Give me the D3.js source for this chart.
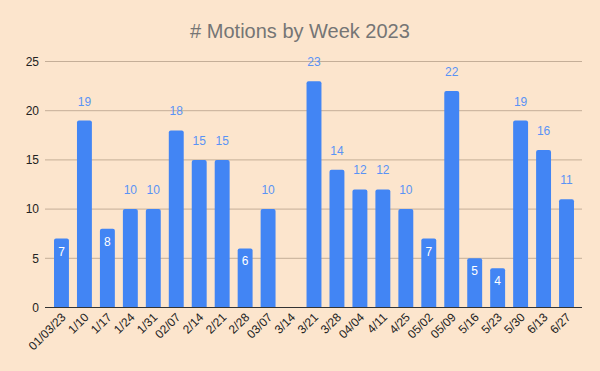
<!DOCTYPE html>
<html>
<head>
<meta charset="utf-8">
<script src="https://cdn.jsdelivr.net/npm/d3@7"></script>
<style>
  body { margin: 0; background: #fce5cd; }
  text { font-family: "Liberation Sans", Arial, sans-serif; }
</style>
</head>
<body>
<div id="chart"></div>
<script>
// weekly motion counts
var weeks = ["01/03/23", "1/10", "1/17", "1/24", "1/31", "02/07", "2/14", "2/21", "2/28", "03/07",
  "3/14", "3/21", "3/28", "04/04", "4/11", "4/25", "05/02", "05/09", "5/16", "5/23", "5/30", "6/13", "6/27"];
var motions = [7, 19, 8, 10, 10, 18, 15, 15, 6, 10, 0, 23, 14, 12, 12, 10, 7, 22, 5, 4, 19, 16, 11];
var yTicks = [0, 5, 10, 15, 20, 25];

var width = 600, height = 371;
var gridLeft = 45, gridRight = 582;

var svg = d3.select("#chart").append("svg")
  .attr("width", width)
  .attr("height", height);

svg.append("rect")
  .attr("width", width).attr("height", height)
  .attr("fill", "#fce5cd");

svg.append("text")
  .attr("x", 300).attr("y", 37.5)
  .attr("text-anchor", "middle")
  .attr("font-size", "20px")
  .attr("fill", "#757575")
  .text("# Motions by Week 2023");

var x = d3.scaleBand()
  .domain(weeks)
  .range([50, 578])
  .paddingInner(0.35)
  .paddingOuter(0.175);

var y = d3.scaleLinear()
  .domain([0, 25])
  .range([307.5, 61.5]);

// gridlines
svg.append("g").selectAll("line")
  .data(yTicks.filter(function(d) { return d > 0; }))
  .join("line")
  .attr("x1", gridLeft).attr("x2", gridRight)
  .attr("y1", function(d) { return y(d); })
  .attr("y2", function(d) { return y(d); })
  .attr("stroke", "#c4ae98")
  .attr("stroke-width", 1);

// y tick labels
svg.append("g").selectAll("text")
  .data(yTicks)
  .join("text")
  .attr("x", 39)
  .attr("y", function(d) { return y(d); })
  .attr("dy", "0.35em")
  .attr("text-anchor", "end")
  .attr("font-size", "12px")
  .attr("fill", "#222")
  .text(function(d) { return d; });

// bars with rounded tops
var r = 2;
function barPath(d, i) {
  var x0 = x(weeks[i]), w = x.bandwidth();
  var y0 = y(0), y1 = y(d);
  if (d === 0) return "";
  return "M" + x0 + "," + y0 +
    "V" + (y1 + r) +
    "Q" + x0 + "," + y1 + " " + (x0 + r) + "," + y1 +
    "H" + (x0 + w - r) +
    "Q" + (x0 + w) + "," + y1 + " " + (x0 + w) + "," + (y1 + r) +
    "V" + y0 + "Z";
}

svg.append("g").selectAll("path")
  .data(motions)
  .join("path")
  .attr("d", barPath)
  .attr("fill", "#4285f4");

// value labels: inside for small bars, above otherwise
svg.append("g").selectAll("text")
  .data(motions)
  .join("text")
  .attr("x", function(d, i) { return x(weeks[i]) + x.bandwidth() / 2; })
  .attr("y", function(d) { return d < 10 ? y(d) + 17 : y(d) - 15; })
  .attr("text-anchor", "middle")
  .attr("font-size", "12px")
  .attr("font-family", "Roboto, sans-serif")
  .attr("fill", function(d) { return d < 10 ? "#fff" : "#5a93f5"; })
  .text(function(d) { return d > 0 ? d : ""; });

// baseline
svg.append("line")
  .attr("x1", gridLeft).attr("x2", gridRight)
  .attr("y1", y(0)).attr("y2", y(0))
  .attr("stroke", "#333")
  .attr("stroke-width", 1);

// x labels, rotated
svg.append("g").selectAll("text")
  .data(weeks)
  .join("text")
  .attr("transform", function(d) {
    return "translate(" + (x(d) + x.bandwidth() / 2 + 5) + "," + 318 + ") rotate(-45)";
  })
  .attr("text-anchor", "end")
  .attr("font-size", "12px")
  .attr("fill", "#222")
  .text(function(d) { return d; });
</script>
</body>
</html>
